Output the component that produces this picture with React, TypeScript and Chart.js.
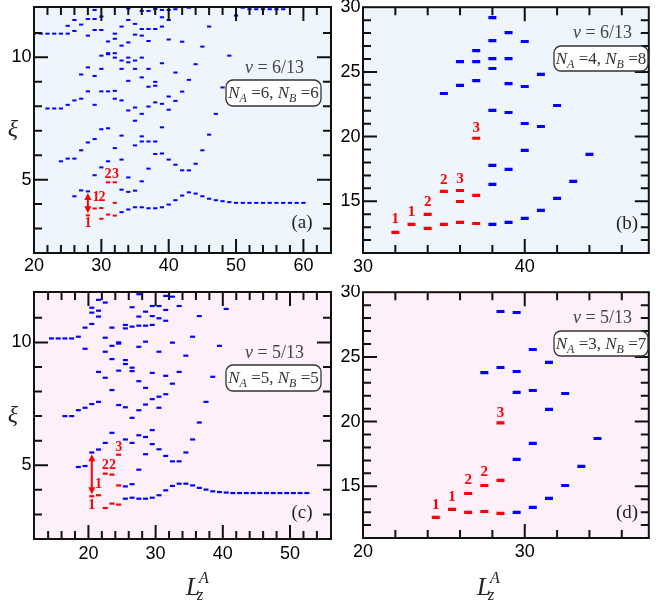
import React, { useEffect, useRef } from 'react';
import { Chart, registerables } from 'chart.js';
Chart.register(...registerables);

type Pt = [number, number];
type Lab = [number, number, string];

// ---------- Panel (a): nu = 6/13, N_A = 6, N_B = 6 ----------
const blueA: Pt[] = [
  [20, 10.97], [21, 10.97], [22, 10.97], [23, 10.97], [24, 10.97], [25, 10.97],
  [22, 7.91], [23, 7.91], [24, 7.91], [25, 8.06], [24, 5.75], [25, 5.86], [26, 5.86],
  [25, 11.29], [26, 11.53], [26, 11.08], [26, 8.24], [26, 4.32],
  [27, 11.34], [27, 9.30], [27, 8.31], [27, 6.20], [27, 4.56],
  [28, 11.57], [28, 10.89], [28, 9.59], [28, 8.61], [28, 6.52], [28, 4.52],
  [29, 11.94], [29, 11.57], [29, 11.12], [29, 9.24], [29, 8.06], [29, 6.66], [29, 5.18],
  [30, 11.67], [30, 11.12], [30, 10.07], [30, 9.53], [30, 8.61], [30, 7.06], [30, 5.50],
  [31, 10.65], [31, 10.17], [31, 10.13], [31, 8.61], [31, 7.10], [31, 5.75],
  [32, 10.97], [32, 10.76], [32, 10.17], [32, 9.99], [32, 8.63], [32, 8.31], [32, 6.29],
  [33, 11.26], [33, 10.48], [33, 9.87], [33, 9.53], [33, 8.24], [33, 6.80], [33, 5.82], [33, 4.59], [33, 3.67],
  [34, 12.0], [34, 11.53], [34, 10.61], [34, 9.99], [34, 9.80], [34, 9.04], [34, 7.83], [34, 5.09], [34, 4.50], [34, 3.78],
  [35, 11.37], [35, 10.93], [35, 9.87], [35, 9.53], [35, 7.95], [35, 7.41], [35, 6.40], [35, 4.55], [35, 3.87],
  [36, 11.90], [36, 11.16], [36, 10.89], [36, 9.99], [36, 9.18], [36, 7.69], [36, 6.77], [36, 6.56], [36, 4.93], [36, 3.87],
  [37, 11.90], [37, 11.16], [37, 10.67], [37, 9.53], [37, 8.80], [37, 7.99], [37, 6.56], [37, 5.45], [37, 3.83],
  [38, 11.98], [38, 11.16], [38, 9.00], [38, 8.84], [38, 8.16], [38, 6.56], [38, 6.05], [38, 3.83],
  [39, 11.94], [39, 11.64], [39, 11.26], [39, 9.76], [39, 8.10], [39, 7.14], [39, 6.07], [39, 3.87],
  [40, 11.94], [40, 11.53], [40, 10.73], [40, 8.40], [40, 7.86], [40, 5.82], [40, 3.98],
  [41, 11.97], [41, 9.38], [41, 8.22], [41, 5.61], [41, 4.16],
  [42, 10.64], [42, 8.60], [42, 5.38], [42, 4.35],
  [43, 12.03], [43, 9.08], [43, 5.38], [43, 4.48],
  [44, 9.72], [44, 5.65], [44, 4.43],
  [45, 10.44], [45, 6.20], [45, 4.32],
  [46, 11.26], [46, 6.84], [46, 4.22],
  [47, 7.69], [47, 4.16],
  [48, 8.77], [48, 4.12],
  [49, 10.07], [49, 4.08],
  [50, 11.71], [50, 4.05],
  [51, 12.03], [51, 4.05],
  [52, 11.97], [52, 4.05], [53, 11.97], [53, 4.05], [54, 11.97], [54, 4.05],
  [55, 11.97], [55, 4.05], [56, 11.97], [56, 4.05], [57, 11.97], [57, 4.05],
  [58, 4.05], [59, 4.05], [60, 4.05],
];
const redA: Pt[] = [
  [28, 3.54], [29, 3.82], [30, 3.84], [30, 3.40], [31, 3.57], [31, 4.89],
  [32, 3.53], [32, 4.05], [32, 4.89],
];
const labelsA: Lab[] = [[28, 3.2, '1'], [29.2, 4.27, '1'], [30.1, 4.27, '2'], [31, 5.2, '2'], [32.1, 5.2, '3']];
const arrowA = [28, 3.63, 4.45];
const xTicksA = [20, 30, 40, 50, 60];
const xMinorA = [22, 24, 26, 28, 32, 34, 36, 38, 42, 44, 46, 48, 52, 54, 56, 58, 62];
const yTicksA = [5, 10];
const yMinorA = [3, 4, 6, 7, 8, 9, 11];

// ---------- Panel (b): nu = 6/13, N_A = 4, N_B = 8 ----------
const blueB: Pt[] = [
  [35, 23.33], [36, 25.80], [36, 23.95], [37, 26.65], [37, 25.80], [37, 24.33],
  [38, 29.2], [38, 27.42], [38, 26.03], [38, 25.26], [38, 22.02], [38, 17.77], [38, 16.30], [38, 13.21],
  [39, 28.04], [39, 26.03], [39, 24.10], [39, 21.86], [39, 17.46], [39, 13.36],
  [40, 27.35], [40, 23.87], [40, 21.01], [40, 18.93], [40, 13.67],
  [41, 24.80], [41, 20.78], [41, 14.29],
  [42, 22.40], [42, 15.22],
  [43, 16.53], [44, 18.62],
];
const redB: Pt[] = [
  [32, 12.59], [33, 13.21], [34, 12.90], [34, 13.98], [35, 13.21], [35, 15.76],
  [36, 13.36], [36, 14.98], [36, 15.83], [37, 13.28], [37, 15.45], [37, 19.87],
];
const labelsB: Lab[] = [[32, 13.62, '1'], [33, 14.18, '1'], [34, 14.95, '2'], [35, 16.63, '2'], [36, 16.71, '3'], [37, 20.65, '3']];
const xTicksB = [30, 40];
const xMinorB = [32, 34, 36, 38, 42, 44, 46];
const yTicksB = [15, 20, 25, 30];
const yMinorB = [12, 13, 14, 16, 17, 18, 19, 21, 22, 23, 24, 26, 27, 28, 29];

// ---------- Panel (c): nu = 5/13, N_A = 5, N_B = 5 ----------
const blueC: Pt[] = [
  [14.5, 10.16], [15.5, 10.16], [16.5, 10.16], [17.5, 10.16], [16.5, 7.0], [17.5, 7.0],
  [18.5, 10.23], [18.5, 7.24], [18.5, 4.93],
  [19.5, 10.60], [19.5, 9.74], [19.5, 7.34], [19.5, 4.97],
  [20.5, 11.41], [20.5, 11.21], [20.5, 10.75], [20.5, 7.49], [20.5, 5.52],
  [21.5, 11.73], [21.5, 11.29], [21.5, 11.05], [21.5, 8.80], [21.5, 7.58], [21.5, 5.64],
  [22.5, 11.62], [22.5, 10.19], [22.5, 9.62], [22.5, 8.56], [22.5, 5.91],
  [23.5, 10.60], [23.5, 9.86], [23.5, 9.32], [23.5, 8.06], [23.5, 6.32],
  [24.5, 10.0], [24.5, 9.95], [24.5, 8.85], [24.5, 7.45],
  [25.5, 10.71], [25.5, 10.57], [25.5, 9.28], [25.5, 9.12], [25.5, 7.36], [25.5, 6.05], [25.5, 4.14], [25.5, 3.64],
  [26.5, 11.43], [26.5, 10.64], [26.5, 8.97], [26.5, 8.83], [26.5, 6.93], [26.5, 5.91], [26.5, 4.23], [26.5, 3.68],
  [27.5, 11.96], [27.5, 11.05], [27.5, 10.68], [27.5, 9.82], [27.5, 8.42], [27.5, 7.24], [27.5, 6.22], [27.5, 4.82], [27.5, 3.64],
  [28.5, 11.25], [28.5, 10.68], [28.5, 10.03], [28.5, 8.15], [28.5, 7.47], [28.5, 6.15], [28.5, 5.45], [28.5, 3.64],
  [29.5, 11.48], [29.5, 11.07], [29.5, 10.71], [29.5, 8.76], [29.5, 7.69], [29.5, 6.43], [29.5, 5.86], [29.5, 3.68],
  [30.5, 11.48], [30.5, 10.98], [30.5, 9.62], [30.5, 7.79], [30.5, 7.34], [30.5, 5.65], [30.5, 3.78],
  [31.5, 11.89], [31.5, 11.32], [31.5, 10.88], [31.5, 8.64], [31.5, 7.89], [31.5, 5.38], [31.5, 3.98],
  [32.5, 11.86], [32.5, 9.99], [32.5, 8.32], [32.5, 5.16], [32.5, 4.16],
  [33.5, 11.48], [33.5, 8.80], [33.5, 5.16], [33.5, 4.25],
  [34.5, 9.46], [34.5, 5.52], [34.5, 4.25],
  [35.5, 10.23], [35.5, 6.05], [35.5, 4.18],
  [36.5, 11.07], [36.5, 6.74], [36.5, 4.08],
  [37.5, 7.58], [37.5, 4.01],
  [38.5, 8.60], [38.5, 3.94],
  [39.5, 9.86], [39.5, 3.91],
  [40.5, 11.36], [40.5, 3.89],
  [41.5, 3.87], [42.5, 3.87], [43.5, 3.87], [44.5, 3.87], [45.5, 3.87], [46.5, 3.87],
  [47.5, 3.87], [48.5, 3.87], [49.5, 3.87], [50.5, 3.87], [51.5, 3.87], [52.5, 3.87],
];
const redC: Pt[] = [
  [20.5, 3.74], [21.5, 3.78], [22.5, 3.26], [22.5, 4.66], [23.5, 3.44], [23.5, 4.62],
  [24.5, 3.40], [24.5, 4.18], [24.5, 5.43],
];
const labelsC: Lab[] = [[20.5, 3.37, '1'], [21.5, 4.22, '1'], [22.5, 5.0, '2'], [23.6, 5.0, '2'], [24.5, 5.74, '3']];
const arrowC = [20.5, 3.82, 5.45];
const xTicksC = [20, 30, 40, 50];
const xMinorC = [14, 16, 18, 22, 24, 26, 28, 32, 34, 36, 38, 42, 44, 46, 48, 52, 54];
const yTicksC = [5, 10];
const yMinorC = [3, 4, 6, 7, 8, 9, 11];

// ---------- Panel (d): nu = 5/13, N_A = 3, N_B = 7 ----------
const blueD: Pt[] = [
  [27.5, 23.79], [28.5, 28.51], [28.5, 24.18], [29.5, 28.43], [29.5, 23.87], [29.5, 22.25],
  [29.5, 17.07], [29.5, 12.98], [30.5, 25.57], [30.5, 22.40], [30.5, 18.31], [30.5, 13.36],
  [31.5, 24.57], [31.5, 20.94], [31.5, 14.06], [32.5, 22.17], [32.5, 15.06],
  [33.5, 16.53], [34.5, 18.69],
];
const redD: Pt[] = [
  [24.5, 12.59], [25.5, 13.21], [26.5, 12.98], [26.5, 14.44], [27.5, 13.05], [27.5, 15.06],
  [28.5, 12.90], [28.5, 15.45], [28.5, 19.9],
];
const labelsD: Lab[] = [[24.5, 13.54, '1'], [25.5, 14.18, '1'], [26.5, 15.47, '2'], [27.5, 16.11, '2'], [28.5, 20.67, '3']];
const xTicksD = [20, 30];
const xMinorD = [22, 24, 26, 28, 32, 34, 36];
const yTicksD = yTicksB;
const yMinorD = yMinorB;

const SANS = '"Liberation Sans", Arial, sans-serif';
const SERIF = '"Liberation Serif", "Times New Roman", serif';
const BLUE_BG = '#eef5fc';
const PINK_BG = '#fdf0fb';

type Panel = {
  box: [number, number, number, number];
  yW: number; padTop: number; padRight: number; xH: number;
  xr: [number, number]; yr: [number, number];
  xT: number[]; xM: number[]; yT: number[]; yM: number[];
  blue: Pt[]; red: Pt[]; labels: Lab[]; arrow: number[] | null;
  bg: string; dash: [number, number]; xPad: number; labSize: number;
  nu: string; na: string; nb: string;
  nuPos: [number, number]; boxRect: [number, number, number, number];
  tag: string; tagPos: [number, number];
  xi: [number, number] | null; lz: [number, number] | null;
};

const panels: Panel[] = [
  {
    box: [0, 0, 340, 285], yW: 34, padTop: 7, padRight: 9, xH: 32,
    xr: [20, 64.1], yr: [2, 12.06], xT: xTicksA, xM: xMinorA, yT: yTicksA, yM: yMinorA,
    blue: blueA, red: redA, labels: labelsA, arrow: arrowA, bg: BLUE_BG, dash: [2.1, 2], xPad: 2, labSize: 14,
    nu: '6/13', na: '6', nb: '6', nuPos: [274.5, 67], boxRect: [226, 80, 95, 26],
    tag: '(a)', tagPos: [302, 222], xi: [13, 130], lz: null,
  },
  {
    box: [340, 0, 316, 285], yW: 23, padTop: 7, padRight: 2.5, xH: 32,
    xr: [30, 47.67], yr: [11, 30], xT: xTicksB, xM: xMinorB, yT: yTicksB, yM: yMinorB,
    blue: blueB, red: redB, labels: labelsB, arrow: null, bg: BLUE_BG, dash: [4, 3.2], xPad: 3, labSize: 15,
    nu: '6/13', na: '4', nb: '8', nuPos: [262.5, 32], boxRect: [214, 46, 94, 25],
    tag: '(b)', tagPos: [287, 223], xi: null, lz: null,
  },
  {
    box: [0, 285, 340, 317], yW: 34, padTop: 7, padRight: 9, xH: 63,
    xr: [11.9, 56.1], yr: [2, 12.05], xT: xTicksC, xM: xMinorC, yT: yTicksC, yM: yMinorC,
    blue: blueC, red: redC, labels: labelsC, arrow: arrowC, bg: PINK_BG, dash: [2.5, 2.2], xPad: 4, labSize: 14,
    nu: '5/13', na: '5', nb: '5', nuPos: [274.5, 67], boxRect: [226, 80, 95, 26],
    tag: '(c)', tagPos: [302, 227], xi: [13, 130.5], lz: [186, 310],
  },
  {
    box: [340, 285, 316, 317], yW: 23, padTop: 7, padRight: 2.5, xH: 64,
    xr: [20, 37.67], yr: [11, 30], xT: xTicksD, xM: xMinorD, yT: yTicksD, yM: yMinorD,
    blue: blueD, red: redD, labels: labelsD, arrow: null, bg: PINK_BG, dash: [4, 3.2], xPad: 3.5, labSize: 15,
    nu: '5/13', na: '3', nb: '7', nuPos: [262.5, 32], boxRect: [214, 46, 94, 25],
    tag: '(d)', tagPos: [287, 227], xi: null, lz: [137, 310],
  },
];

type Part = [string, string, number, number]; // text, font style, size, dy

function drawParts(ctx: CanvasRenderingContext2D, parts: Part[], cx: number, cy: number, color: string) {
  let total = 0;
  const widths = parts.map(([t, st, sz]) => {
    ctx.font = `${st} ${sz}px ${SERIF}`;
    const w = ctx.measureText(t).width;
    total += w;
    return w;
  });
  let x = cx - total / 2;
  ctx.fillStyle = color;
  ctx.textAlign = 'left';
  ctx.textBaseline = 'alphabetic';
  parts.forEach(([t, st, sz, dy], i) => {
    ctx.font = `${st} ${sz}px ${SERIF}`;
    ctx.fillText(t, x, cy + dy);
    x += widths[i];
  });
}

function makeChart(canvas: HTMLCanvasElement, p: Panel) {
  const deco = {
    id: 'deco',
    beforeDatasetsDraw(chart: any) {
      const { ctx, chartArea: a } = chart;
      ctx.save();
      ctx.fillStyle = p.bg;
      ctx.fillRect(a.left, a.top, a.right - a.left, a.bottom - a.top);
      ctx.restore();
    },
    afterDatasetsDraw(chart: any) {
      const { ctx, chartArea: a, scales } = chart;
      const xs = scales.x, ys = scales.y;
      ctx.save();
      // arrow
      if (p.arrow) {
        const x = xs.getPixelForValue(p.arrow[0]);
        const y1 = ys.getPixelForValue(p.arrow[1]);
        const y2 = ys.getPixelForValue(p.arrow[2]);
        const hl = 7, hw = 3.5;
        ctx.strokeStyle = '#ff0000';
        ctx.fillStyle = '#ff0000';
        ctx.lineWidth = 2;
        ctx.beginPath();
        ctx.moveTo(x, y1 - hl + 1);
        ctx.lineTo(x, y2 + hl - 1);
        ctx.stroke();
        ctx.beginPath();
        ctx.moveTo(x, y2); ctx.lineTo(x - hw, y2 + hl); ctx.lineTo(x + hw, y2 + hl); ctx.closePath(); ctx.fill();
        ctx.beginPath();
        ctx.moveTo(x, y1); ctx.lineTo(x - hw, y1 - hl); ctx.lineTo(x + hw, y1 - hl); ctx.closePath(); ctx.fill();
      }
      // red count labels
      ctx.fillStyle = '#ff0000';
      ctx.font = `bold ${p.labSize}px ${SERIF}`;
      ctx.textAlign = 'center';
      ctx.textBaseline = 'middle';
      for (const [L, xi, t] of p.labels) ctx.fillText(t, xs.getPixelForValue(L), ys.getPixelForValue(xi));
      // ticks (inward, all four sides)
      ctx.strokeStyle = '#111';
      ctx.lineWidth = 2;
      const xt = (vals: number[], len: number) => {
        for (const v of vals) {
          const px = xs.getPixelForValue(v);
          if (px < a.left + 1.5 || px > a.right - 1.5) continue;
          ctx.beginPath();
          ctx.moveTo(px, a.bottom); ctx.lineTo(px, a.bottom - len);
          ctx.moveTo(px, a.top); ctx.lineTo(px, a.top + len);
          ctx.stroke();
        }
      };
      const yt = (vals: number[], len: number) => {
        for (const v of vals) {
          const py = ys.getPixelForValue(v);
          if (py < a.top + 1.5 || py > a.bottom - 1.5) continue;
          ctx.beginPath();
          ctx.moveTo(a.left, py); ctx.lineTo(a.left + len, py);
          ctx.moveTo(a.right, py); ctx.lineTo(a.right - len, py);
          ctx.stroke();
        }
      };
      xt(p.xT, 14); xt(p.xM, 8); yt(p.yT, 14); yt(p.yM, 8);
      ctx.strokeRect(a.left, a.top, a.right - a.left, a.bottom - a.top);
      ctx.restore();
    },
    afterDraw(chart: any) {
      const { ctx } = chart;
      ctx.save();
      // nu
      drawParts(ctx, [['\u03bd', 'italic', 18, 0], [' = ' + p.nu, 'normal', 18, 0]], p.nuPos[0], p.nuPos[1] + 6, '#444');
      // rounded box
      const [bx, by, bw, bh] = p.boxRect;
      ctx.beginPath();
      (ctx as any).roundRect(bx, by, bw, bh, 7);
      ctx.fillStyle = '#ffffff';
      ctx.fill();
      ctx.strokeStyle = '#333';
      ctx.lineWidth = 1.3;
      ctx.stroke();
      drawParts(ctx, [
        ['N', 'italic', 17, 0], ['A', 'italic', 12, 4], [' =' + p.na + ', ', 'normal', 17, 0],
        ['N', 'italic', 17, 0], ['B', 'italic', 12, 4], [' =' + p.nb, 'normal', 17, 0],
      ], bx + bw / 2, by + bh / 2 + 5, '#333');
      // panel tag
      drawParts(ctx, [[p.tag, 'normal', 19, 0]], p.tagPos[0], p.tagPos[1] + 6, '#222');
      // xi axis label
      if (p.xi) {
        ctx.font = `italic 24px ${SERIF}`;
        ctx.fillStyle = '#222';
        ctx.textAlign = 'center';
        ctx.textBaseline = 'middle';
        ctx.fillText('\u03be', p.xi[0], p.xi[1]);
      }
      // L_z^A axis label
      if (p.lz) {
        const [lx, ly] = p.lz;
        ctx.fillStyle = '#222';
        ctx.textAlign = 'left';
        ctx.textBaseline = 'alphabetic';
        ctx.font = `italic 25px ${SERIF}`;
        ctx.fillText('L', lx, ly);
        const w = ctx.measureText('L').width;
        ctx.font = `italic 16px ${SERIF}`;
        ctx.fillText('A', lx + w - 1, ly - 12);
        ctx.fillText('z', lx + w - 3, ly + 5);
      }
      ctx.restore();
    },
  };

  const tickFont = { family: SANS, size: 18 };
  return new Chart(canvas, {
    type: 'scatter',
    data: {
      datasets: [
        {
          data: p.blue.map(([x, y]) => ({ x, y })),
          pointStyle: 'line', pointRadius: p.dash[0], pointBorderWidth: p.dash[1],
          pointBorderColor: '#0000ff', pointBackgroundColor: '#0000ff', showLine: false,
        },
        {
          data: p.red.map(([x, y]) => ({ x, y })),
          pointStyle: 'line', pointRadius: p.dash[0], pointBorderWidth: p.dash[1],
          pointBorderColor: '#ff0000', pointBackgroundColor: '#ff0000', showLine: false,
        },
      ],
    } as any,
    options: {
      animation: false,
      responsive: false,
      events: [],
      layout: { padding: { top: p.padTop, right: p.padRight, left: 0, bottom: 0 } },
      plugins: { legend: { display: false }, tooltip: { enabled: false } },
      scales: {
        x: {
          type: 'linear', min: p.xr[0], max: p.xr[1],
          grid: { display: false, drawTicks: false },
          border: { display: false },
          ticks: { font: tickFont, color: '#000', padding: p.xPad, autoSkip: false, maxRotation: 0, callback: (v: any) => String(v) },
          afterBuildTicks: (s: any) => { s.ticks = p.xT.map((v) => ({ value: v })); },
          afterFit: (s: any) => { s.height = p.xH; s.paddingLeft = 0; s.paddingRight = 0; },
        },
        y: {
          type: 'linear', min: p.yr[0], max: p.yr[1],
          grid: { display: false, drawTicks: false },
          border: { display: false },
          ticks: { font: tickFont, color: '#000', padding: 2.5, autoSkip: false, callback: (v: any) => String(v) },
          afterBuildTicks: (s: any) => { s.ticks = p.yT.map((v) => ({ value: v })); },
          afterFit: (s: any) => { s.width = p.yW; s.paddingTop = 0; s.paddingBottom = 0; },
        },
      },
    } as any,
    plugins: [deco],
  });
}

export default function App() {
  const refs = useRef<(HTMLCanvasElement | null)[]>([]);
  useEffect(() => {
    const charts = panels.map((p, i) => makeChart(refs.current[i] as HTMLCanvasElement, p));
    return () => charts.forEach((c) => c.destroy());
  }, []);
  return (
    <div style={{ position: 'absolute', left: 0, top: 0, width: 656, height: 602, background: '#fff', overflow: 'hidden' }}>
      {panels.map((p, i) => (
        <canvas
          key={i}
          ref={(el) => { refs.current[i] = el; }}
          width={p.box[2]}
          height={p.box[3]}
          style={{ position: 'absolute', left: p.box[0], top: p.box[1], width: p.box[2], height: p.box[3] }}
        />
      ))}
    </div>
  );
}
